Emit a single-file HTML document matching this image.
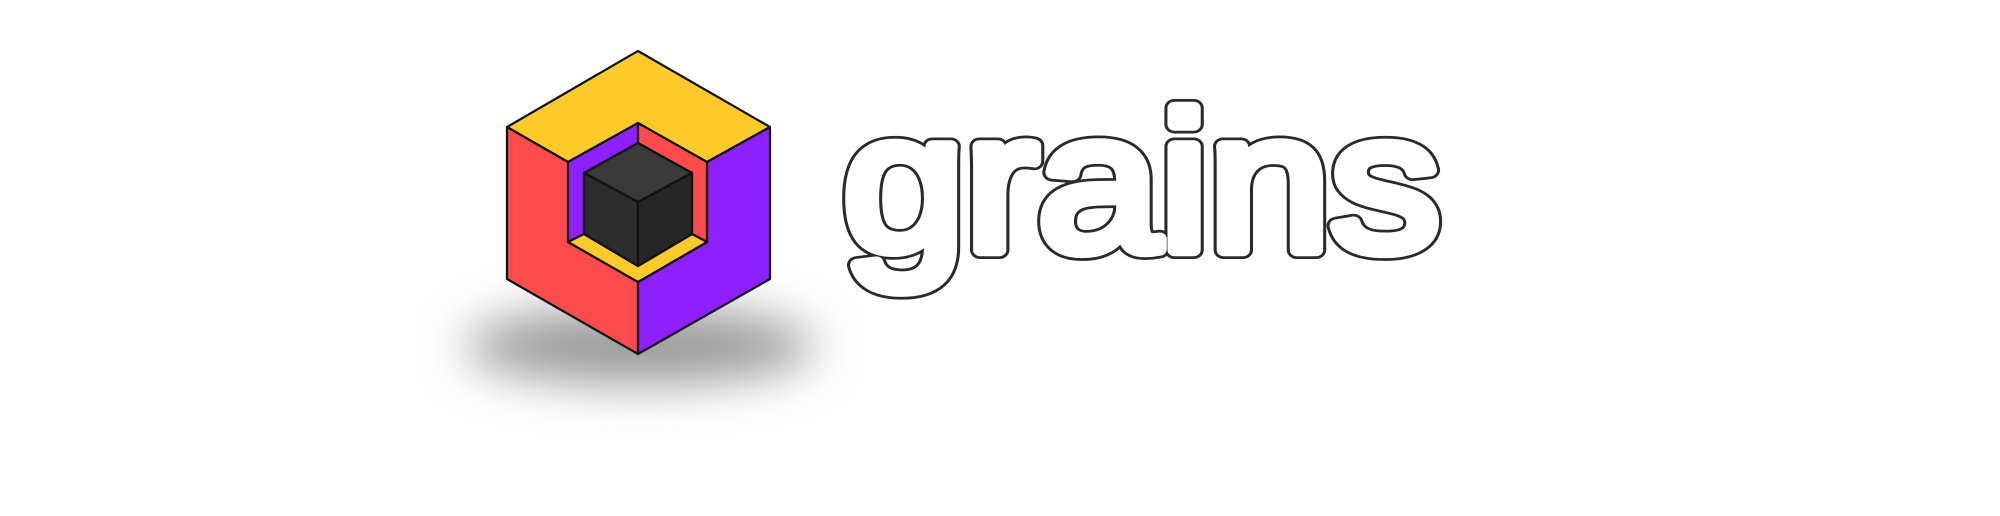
<!DOCTYPE html>
<html><head><meta charset="utf-8"><style>
html,body{margin:0;padding:0;background:#fff;width:2000px;height:516px;overflow:hidden}
svg{display:block}
.word{font-family:"Liberation Sans", Arial, sans-serif;font-weight:400;font-size:196px}
</style></head><body>
<svg width="2000" height="516" viewBox="0 0 2000 516">
<defs>
<filter id="blur" x="-50%" y="-100%" width="200%" height="300%"><feGaussianBlur stdDeviation="24"/></filter>
</defs>
<ellipse cx="640" cy="346" rx="175" ry="38" fill="#9a9a9a" filter="url(#blur)"/>
<g stroke="#111" stroke-width="2.2" stroke-linejoin="round">
<polygon points="638,51 770,127 707,162 638,123 568,162 507,127" fill="#ffcb2b"/>
<polygon points="507,127 568,162 568,242 638,282 638,354 507,279" fill="#ff4b4b"/>
<polygon points="770,127 770,279 638,354 638,282 707,242 707,162" fill="#8e1fff"/>
<polygon points="568,162 638,123 638,143 584,173 584,234 568,242" fill="#8e1fff"/>
<polygon points="638,123 707,162 707,242 692,234 692,173 638,143" fill="#ff4b4b"/>
<polygon points="568,242 584,234 638,266 692,234 707,242 638,282" fill="#ffcb2b"/>
<polygon points="638,143 692,173 638,202 584,173" fill="#3a3a3a"/>
<polygon points="584,173 638,202 638,266 584,234" fill="#2c2c2c"/>
<polygon points="692,173 692,234 638,266 638,202" fill="#262626"/>
</g>
<text class="word" x="843" y="250" textLength="597" lengthAdjust="spacingAndGlyphs" fill="#2a2a2a" stroke="#2a2a2a" stroke-width="18" stroke-linejoin="round">grains</text>
<text class="word" x="843" y="250" textLength="597" lengthAdjust="spacingAndGlyphs" fill="#fff" stroke="#fff" stroke-width="12.5" stroke-linejoin="round">grains</text>
</svg>
</body></html>
